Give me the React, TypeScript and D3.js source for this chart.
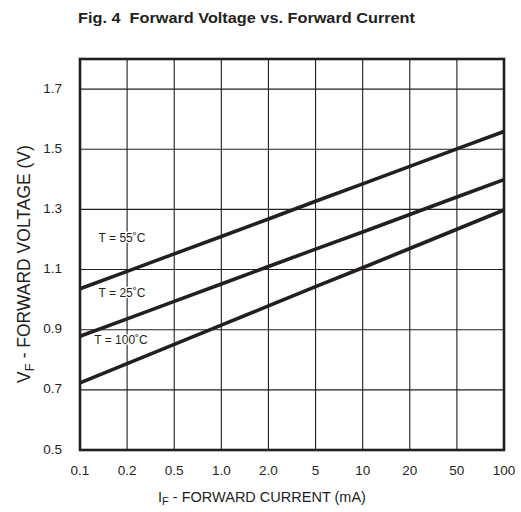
import React from "react";
import * as d3 from "d3";

const currents = ["0.1", "0.2", "0.5", "1.0", "2.0", "5", "10", "20", "50", "100"];
const yTicks = [0.5, 0.7, 0.9, 1.1, 1.3, 1.5, 1.7];
const vf55 = [1.036, 1.094, 1.152, 1.21, 1.268, 1.327, 1.385, 1.443, 1.501, 1.559];
const vf25 = [0.878, 0.936, 0.994, 1.052, 1.11, 1.168, 1.225, 1.283, 1.341, 1.399];
const vf100 = [0.723, 0.787, 0.851, 0.915, 0.979, 1.043, 1.106, 1.17, 1.234, 1.298];
const seriesLabels = ["T = 55˚C", "T = 25˚C", "T = 100˚C"];

const W = 521;
const H = 512;
const L = 80, R = 504, T = 59, B = 450;
const ink = "#231f20";
const font = "'Liberation Sans', Arial, Helvetica, sans-serif";

export default function App() {
  const x = d3.scalePoint<string>().domain(currents).range([L, R]);
  const y = d3.scaleLinear().domain([0.5, 1.8]).range([B, T]);
  const line = d3
    .line<number>()
    .x((_, i) => x(currents[i]) as number)
    .y((d) => y(d));
  const series = [vf55, vf25, vf100];
  const labelPos = [
    { x: 122, v: 1.203 },
    { x: 122, v: 1.02 },
    { x: 121, v: 0.862 },
  ];
  return (
    <svg
      width={W}
      height={H}
      style={{ position: "absolute", left: 0, top: 0, background: "#fff" }}
      fontFamily={font}
    >
      <rect x={0} y={0} width={W} height={H} fill="#fff" />
      <text x={78} y={22.5} fontSize={15.5} fontWeight="bold" fill={ink} textLength={337} lengthAdjust="spacingAndGlyphs">
        Fig. 4{"\u00a0\u00a0"}Forward Voltage vs. Forward Current
      </text>
      {currents.map((c) => (
        <line key={"v" + c} x1={x(c)} x2={x(c)} y1={T} y2={B} stroke={ink} strokeWidth={1.1} />
      ))}
      {yTicks.map((t) => (
        <line key={"h" + t} x1={L} x2={R} y1={y(t)} y2={y(t)} stroke={ink} strokeWidth={1.1} />
      ))}
      {series.map((s, i) => (
        <path key={i} d={line(s) || ""} fill="none" stroke={ink} strokeWidth={3.6} />
      ))}
      <rect x={L} y={T} width={R - L} height={B - T} fill="none" stroke={ink} strokeWidth={2.6} />
      {seriesLabels.map((lab, i) => (
        <text
          key={lab}
          x={labelPos[i].x}
          y={y(labelPos[i].v)}
          fontSize={12}
          textAnchor="middle"
          dominantBaseline="middle"
          fill={ink}
          stroke="#fff"
          strokeWidth={2.5}
          paintOrder="stroke"
        >
          {lab}
        </text>
      ))}
      {yTicks.map((t) => (
        <text key={"yl" + t} x={62} y={y(t)} fontSize={13.5} textAnchor="end" dominantBaseline="middle" fill={ink}>
          {t.toFixed(1)}
        </text>
      ))}
      {currents.map((c) => (
        <text key={"xl" + c} x={x(c)} y={475} fontSize={13.5} textAnchor="middle" fill={ink}>
          {c}
        </text>
      ))}
      <text x={262} y={502} fontSize={14.5} textAnchor="middle" fill={ink}>
        I<tspan fontSize={11} dy={3}>F</tspan>
        <tspan dy={-3}> - FORWARD CURRENT (mA)</tspan>
      </text>
      <text
        transform={`translate(30, 264) rotate(-90)`}
        fontSize={17.5}
        textAnchor="middle"
        fill={ink}
      >
        V<tspan fontSize={13} dy={4}>F</tspan>
        <tspan dy={-4}> - FORWARD VOLTAGE (V)</tspan>
      </text>
    </svg>
  );
}
